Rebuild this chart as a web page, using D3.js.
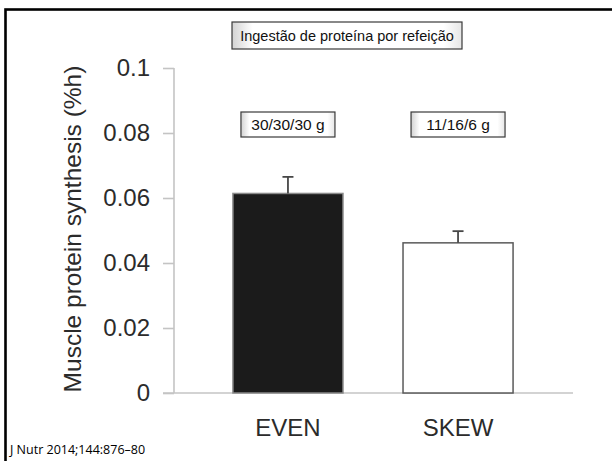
<!DOCTYPE html>
<html>
<head>
<meta charset="utf-8">
<script src="https://cdn.jsdelivr.net/npm/d3@7"></script>
<style>
  html, body { margin: 0; padding: 0; background: #fff; }
  svg { display: block; }
</style>
</head>
<body>
<svg id="chart" width="612" height="461"></svg>
<script>
// Muscle protein synthesis by protein distribution pattern
const categories = ["EVEN", "SKEW"];
const meanValues = [0.0614, 0.0462];
const errorValues = [0.0051, 0.0036];
const barFills = ["#1b1b1b", "#ffffff"];
const barStrokes = ["#8a8a8a", "#5a5a5a"];
const doseLabels = ["30/30/30 g", "11/16/6 g"];
const yTicks = [0, 0.02, 0.04, 0.06, 0.08, 0.1];
const yTickLabels = ["0", "0.02", "0.04", "0.06", "0.08", "0.1"];
const titleText = "Ingestão de proteína por refeição";
const yAxisTitle = "Muscle protein synthesis (%h)";
const sourceText = "J Nutr 2014;144:876–80";

const svg = d3.select("#chart");
const font = "'Liberation Sans', Arial, Helvetica, sans-serif";
const axisGray = "#c4c4c4";
const textColor = "#2b2b2b";

// gradient for the bevelled label boxes
const defs = svg.append("defs");
const grad = defs.append("linearGradient").attr("id", "boxShade")
  .attr("x1", "0%").attr("x2", "100%").attr("y1", "0%").attr("y2", "0%");
grad.append("stop").attr("offset", "0%").attr("stop-color", "#d2d2d2");
grad.append("stop").attr("offset", "9%").attr("stop-color", "#ffffff");
grad.append("stop").attr("offset", "92%").attr("stop-color", "#ffffff");
grad.append("stop").attr("offset", "100%").attr("stop-color", "#e6e6e6");

// slide frame (only top and left edges fall inside the view)
svg.append("rect")
  .attr("x", 5.5).attr("y", 9.5).attr("width", 700).attr("height", 600)
  .attr("fill", "none").attr("stroke", "#000").attr("stroke-width", 2.6);

const x = d3.scaleBand()
  .domain(categories)
  .range([203, 543])
  .paddingInner(0.353)
  .paddingOuter(0.176);

const y = d3.scaleLinear().domain([0, 0.1]).range([393, 68]);

// y axis
const yAxis = d3.axisLeft(y)
  .tickValues(yTicks)
  .tickFormat((d, i) => yTickLabels[i])
  .tickSize(11)
  .tickPadding(13);

const gy = svg.append("g").attr("transform", "translate(174,0)").call(yAxis);
gy.select(".domain").attr("stroke", axisGray).attr("stroke-width", 1.6)
  .attr("d", `M0,${y(0.1)}V${y(0)}`);
gy.selectAll(".tick line").attr("stroke", axisGray).attr("stroke-width", 1.6);
gy.selectAll(".tick text")
  .attr("fill", textColor)
  .style("font-family", font)
  .style("font-size", "24px");

// baseline extending across the categories
svg.append("line")
  .attr("x1", 163).attr("x2", 573)
  .attr("y1", y(0)).attr("y2", y(0))
  .attr("stroke", axisGray).attr("stroke-width", 1.6);

// bars
svg.selectAll("rect.bar")
  .data(categories)
  .join("rect")
  .attr("class", "bar")
  .attr("x", d => x(d))
  .attr("width", x.bandwidth())
  .attr("y", (d, i) => y(meanValues[i]))
  .attr("height", (d, i) => y(0) - y(meanValues[i]))
  .attr("fill", (d, i) => barFills[i])
  .attr("stroke", (d, i) => barStrokes[i])
  .attr("stroke-width", 1.5);

// error bars (upper only)
const err = svg.selectAll("g.err")
  .data(categories)
  .join("g")
  .attr("class", "err")
  .attr("stroke", "#474747")
  .attr("stroke-width", 1.8);
err.append("line")
  .attr("x1", d => x(d) + x.bandwidth() / 2)
  .attr("x2", d => x(d) + x.bandwidth() / 2)
  .attr("y1", (d, i) => y(meanValues[i]))
  .attr("y2", (d, i) => y(meanValues[i] + errorValues[i]));
err.append("line")
  .attr("x1", d => x(d) + x.bandwidth() / 2 - 5.5)
  .attr("x2", d => x(d) + x.bandwidth() / 2 + 5.5)
  .attr("y1", (d, i) => y(meanValues[i] + errorValues[i]))
  .attr("y2", (d, i) => y(meanValues[i] + errorValues[i]));

// category labels
svg.selectAll("text.cat")
  .data(categories)
  .join("text")
  .attr("class", "cat")
  .attr("x", d => x(d) + x.bandwidth() / 2)
  .attr("y", 436)
  .attr("text-anchor", "middle")
  .attr("fill", textColor)
  .style("font-family", font)
  .style("font-size", "24px")
  .text(d => d);

// y axis title
svg.append("text")
  .attr("transform", "translate(81,229) rotate(-90)")
  .attr("text-anchor", "middle")
  .attr("fill", textColor)
  .style("font-family", font)
  .style("font-size", "24.5px")
  .text(yAxisTitle);

// boxed labels
function boxLabel(cx, cy, w, h, txt, size) {
  const g = svg.append("g");
  g.append("rect")
    .attr("x", cx - w / 2).attr("y", cy - h / 2)
    .attr("width", w).attr("height", h)
    .attr("fill", "url(#boxShade)")
    .attr("stroke", "#3a3a3a").attr("stroke-width", 1.2);
  g.append("text")
    .attr("x", cx).attr("y", cy)
    .attr("dy", "0.36em")
    .attr("text-anchor", "middle")
    .attr("fill", "#111")
    .style("font-family", font)
    .style("font-size", size + "px")
    .text(txt);
}

boxLabel(347, 35.5, 230, 27, titleText, 14.5);
doseLabels.forEach((lbl, i) => {
  const cx = x(categories[i]) + x.bandwidth() / 2;
  boxLabel(cx, 124.5, 94, 25, lbl, 15.5);
});

// source note
svg.append("text")
  .attr("x", 10).attr("y", 454)
  .attr("fill", "#000")
  .style("font-family", "'Open Sans', 'Noto Sans', sans-serif")
  .style("font-size", "12.5px")
  .text(sourceText);
</script>
</body>
</html>
